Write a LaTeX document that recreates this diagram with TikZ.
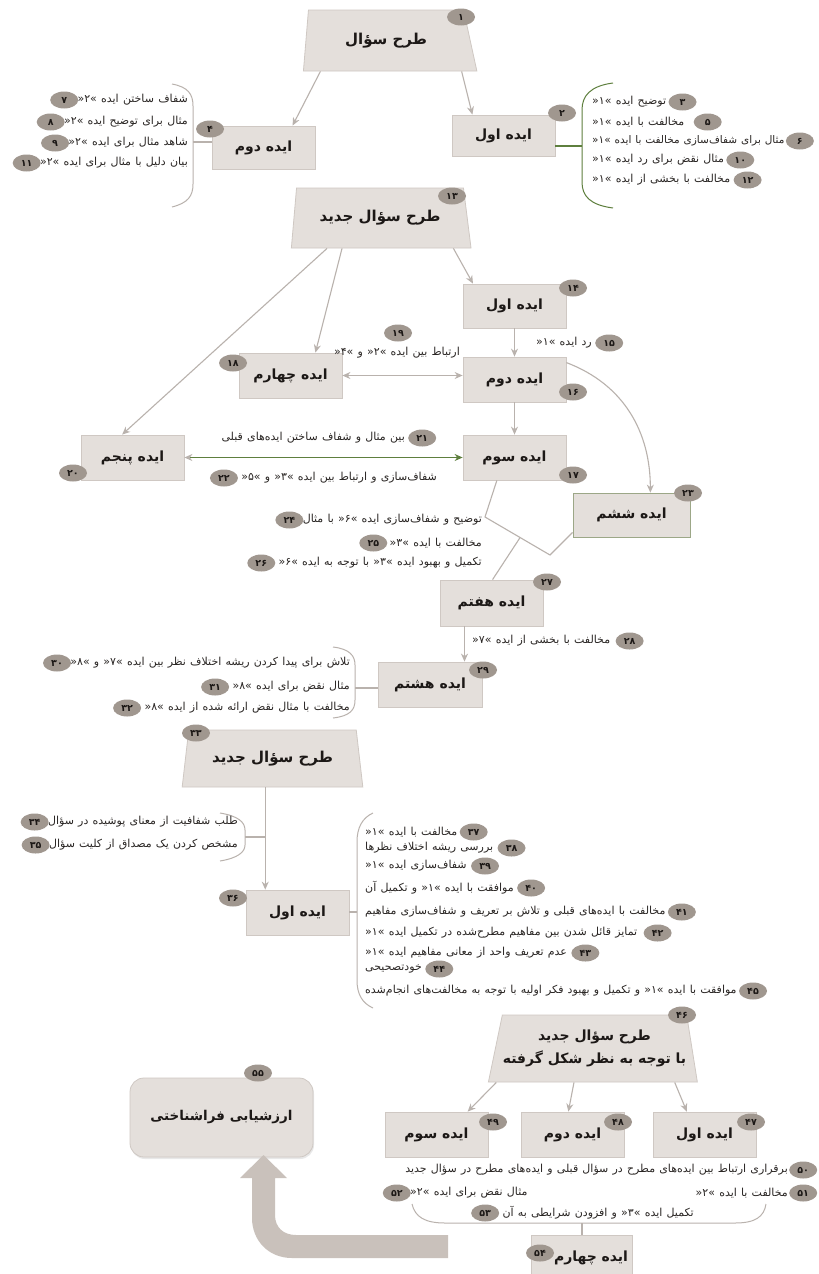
\documentclass[tikz,border=0pt]{standalone}
\usepackage{fontspec}
\usetikzlibrary{shapes.geometric,arrows.meta,calc,shadows}
\TeXXeTstate=1
\newfontfamily\fa[Script=Arabic]{DejaVu Sans}
\newcommand{\rl}[1]{\beginR#1\endR}
\newcommand{\itemfont}{\fa\fontsize{11}{13}\selectfont\spaceskip 4.2pt plus 1pt minus 0.5pt\relax}
\newcommand{\itemfontsm}{\fa\fontsize{10.5}{13}\selectfont\spaceskip 3.9pt plus 1pt minus 0.5pt\relax}
\definecolor{boxfill}{HTML}{E4DFDB}
\definecolor{boxline}{HTML}{CFC8C3}
\definecolor{badgefill}{HTML}{A0978F}
\definecolor{conncol}{HTML}{B9B2AD}
\definecolor{grn}{HTML}{5E7F3E}
\definecolor{txt}{HTML}{2A2624}
\definecolor{boldtxt}{HTML}{1C1816}
\definecolor{arrowfill}{HTML}{C9C1BB}
\tikzset{
 idea/.style={draw=boxline, fill=boxfill, line width=0.8pt, minimum width=103pt, minimum height=45pt, inner sep=0pt, font=\fa\bfseries\fontsize{14}{16}\selectfont, text=boldtxt},
 qbox/.style={trapezium, trapezium stretches=true, draw=boxline, fill=boxfill, line width=0.8pt, inner sep=0pt, font=\fa\bfseries\fontsize{15}{22}\selectfont, text=boldtxt, align=center},
 badge/.style={ellipse, fill=badgefill, minimum width=28pt, minimum height=17pt, inner sep=0pt, font=\fa\bfseries\fontsize{9.5}{9.5}\selectfont, text=boldtxt},
 item/.style={inner sep=0pt, font=\itemfont, text=txt},
 conn/.style={draw=conncol, line width=1.1pt},
 arr/.style={conn, -{Stealth[length=8pt,width=7pt]}},
 darr/.style={conn, {Stealth[length=8pt,width=7pt]}-{Stealth[length=8pt,width=7pt]}},
 brk/.style={draw=conncol, line width=1pt},
}
\begin{document}
\begin{tikzpicture}[x=1pt,y=-1pt]
\useasboundingbox (0,0) rectangle (819,1274);
\fill[white] (0,0) rectangle (819,1274);

% ---------- top section ----------
\node[qbox, trapezium left angle=80, trapezium right angle=65, minimum width=174pt, minimum height=61pt] (t1) at (386,40.5) {\rl{طرح سؤال}};
\node[idea, minimum height=43pt] (b4) at (263.5,147.5) {\rl{ایده دوم}};
\node[idea, minimum height=41pt] (b2) at (503.5,135.5) {\rl{ایده اول}};
\draw[arr] ($(t1.bottom left corner)!0.1!(t1.bottom right corner)$) -- ($(b4.north west)!0.78!(b4.north east)$);
\draw[arr] ($(t1.bottom left corner)!0.91!(t1.bottom right corner)$) -- ($(b2.north west)!0.2!(b2.north east)$);
\node[badge] (n1) at (461,17) {۱};
\node[badge] (n4) at (210,129) {۴};
\node[badge] (n2) at (562,113) {۲};

% left list of idea 2 (node 4)
\draw[brk] (172,84) .. controls (188,87) and (193,94) .. (193,106) -- (193,184) .. controls (193,196) and (188,203) .. (172,207);
\coordinate (k4) at (193,142);
\draw[conn] (k4) -- (k4 -| b4.west);
\node[item, anchor=east] (l7) at (188,100) {\rl{شفاف ساختن ایده »۲«}};
\node[badge, anchor=east] (n7) at ([xshift=1pt]l7.west) {۷};
\node[item, anchor=east] (l8) at (188,122) {\rl{مثال برای توضیح ایده »۲«}};
\node[badge, anchor=east] (n8) at ([xshift=1pt]l8.west) {۸};
\node[item, anchor=east] (l9) at (188,143) {\rl{شاهد مثال برای ایده »۲«}};
\node[badge, anchor=east] (n9) at ([xshift=1pt]l9.west) {۹};
\node[item, anchor=east] (l11) at (188,163) {\rl{بیان دلیل با مثال برای ایده »۲«}};
\node[badge, anchor=east] (n11) at ([xshift=1pt]l11.west) {۱۱};

% right list of idea 1 (node 2)
\draw[brk, draw=grn] (613,83) .. controls (590,86) and (582,96) .. (582,110) -- (582,182) .. controls (582,196) and (590,205) .. (613,208);
\coordinate (k2) at (582,146);
\draw[draw=grn, line width=1.1pt] (k2 -| b2.east) -- (k2);
\node[item, anchor=west] (l3) at (592,102) {\rl{توضیح ایده »۱«}};
\node[badge, anchor=west] (n3) at ([xshift=2pt]l3.east) {۳};
\node[item, anchor=west] (l5) at (592,122) {\rl{مخالفت با ایده »۱«}};
\node[badge, anchor=west] (n5) at ([xshift=9pt]l5.east) {۵};
\node[item, anchor=west, font=\itemfontsm] (l6) at (592,141) {\rl{مثال برای شفاف‌سازی مخالفت با ایده »۱«}};
\node[badge, anchor=west] (n6) at ([xshift=1pt]l6.east) {۶};
\node[item, anchor=west] (l10) at (592,160) {\rl{مثال نقض برای رد ایده »۱«}};
\node[badge, anchor=west] (n10) at ([xshift=2pt]l10.east) {۱۰};
\node[item, anchor=west] (l12) at (592,180) {\rl{مخالفت با بخشی از ایده »۱«}};
\node[badge, anchor=west] (n12) at ([xshift=3pt]l12.east) {۱۲};

% ---------- middle section ----------
\node[qbox, trapezium left angle=76, trapezium right angle=70, minimum width=180pt, minimum height=60pt] (t13) at (380,218) {\rl{طرح سؤال جدید}};
\node[idea, minimum height=44pt] (b14) at (514.5,306) {\rl{ایده اول}};
\node[idea] (b16) at (514.5,379.5) {\rl{ایده دوم}};
\node[idea] (b17) at (514.5,457.5) {\rl{ایده سوم}};
\node[idea] (b18) at (290.5,375.5) {\rl{ایده چهارم}};
\node[idea] (b20) at (132.5,457.5) {\rl{ایده پنجم}};
\node[idea, draw=grn!45!boxline, minimum width=117pt, minimum height=44pt] (b23) at (631.5,515) {\rl{ایده ششم}};
\node[idea, minimum height=46pt] (b27) at (491.5,603) {\rl{ایده هفتم}};
\node[idea, minimum width=104pt] (b29) at (430,684.5) {\rl{ایده هشتم}};

\draw[arr] ($(t13.bottom left corner)!0.9!(t13.bottom right corner)$) -- ($(b14.north west)!0.1!(b14.north east)$);
\draw[arr] ($(t13.bottom left corner)!0.283!(t13.bottom right corner)$) -- ($(b18.north west)!0.74!(b18.north east)$);
\draw[arr] ($(t13.bottom left corner)!0.2!(t13.bottom right corner)$) -- ($(b20.north west)!0.4!(b20.north east)$);
\draw[arr] (b14.south) -- (b16.north);
\draw[arr] (b16.south) -- (b17.north);
\draw[darr] (b18.east) -- (b18.east -| b16.west);
\draw[draw=grn, line width=1.1pt, {Stealth[length=8pt,width=7pt,color=conncol]}-{Stealth[length=8pt,width=7pt]}] (b20.east) -- (b20.east -| b17.west);
\draw[arr] ($(b16.north east)+(0,6)$) .. controls +(58,22) and +(0,-60) .. ($(b23.north west)!0.66!(b23.north east)$);

\coordinate (v1) at (485,517);
\coordinate (v2) at (550,555);
\draw[conn] ($(b17.south west)!0.33!(b17.south east)$) -- (v1) -- (v2) -- ($(b23.south west)+(0,-5)$);
\draw[conn] ($(v1)!0.54!(v2)$) -- ($(b27.north west)!0.51!(b27.north east)$);
\coordinate (c27) at ($(b27.south west)!0.24!(b27.south east)$);
\draw[arr] (c27) -- (c27 |- b29.north);

\node[badge] (n13) at (452,196) {۱۳};
\node[badge] (n14) at (573,288) {۱۴};
\node[badge] (n16) at (573,392) {۱۶};
\node[badge] (n17) at (573,475) {۱۷};
\node[badge] (n18) at (233,363) {۱۸};
\node[badge] (n20) at (73,473) {۲۰};
\node[badge] (n23) at (688,493) {۲۳};
\node[badge] (n27) at (547,582) {۲۷};
\node[badge] (n29) at (483,670) {۲۹};

\node[badge] (n19) at (398,333) {۱۹};
\node[item, anchor=east] (l19) at (460,353) {\rl{ارتباط بین ایده »۲« و »۴«}};
\node[item, anchor=east] (l15) at (592,343) {\rl{رد ایده »۱«}};
\node[badge, anchor=west] (n15) at ([xshift=3pt]l15.east) {۱۵};
\node[item, anchor=east] (l21) at (405,438) {\rl{بین مثال و شفاف ساختن ایده‌های قبلی}};
\node[badge, anchor=west] (n21) at ([xshift=3pt]l21.east) {۲۱};
\node[item, anchor=east] (l22) at (437,478) {\rl{شفاف‌سازی و ارتباط بین ایده »۳« و »۵«}};
\node[badge, anchor=east] (n22) at ([xshift=-3pt]l22.west) {۲۲};
\node[item, anchor=east] (l24) at (482,520) {\rl{توضیح و شفاف‌سازی ایده »۶« با مثال}};
\node[badge, anchor=east] (n24) at ([xshift=1pt]l24.west) {۲۴};
\node[item, anchor=east] (l25) at (482,543) {\rl{مخالفت با ایده »۳«}};
\node[badge, anchor=east] (n25) at ([xshift=-2pt]l25.west) {۲۵};
\node[item, anchor=east] (l26) at (482,563) {\rl{تکمیل و بهبود ایده »۳« با توجه به ایده »۶«}};
\node[badge, anchor=east] (n26) at ([xshift=-3pt]l26.west) {۲۶};
\node[item, anchor=west] (l28) at (472,641) {\rl{مخالفت با بخشی از ایده »۷«}};
\node[badge, anchor=west] (n28) at ([xshift=5pt]l28.east) {۲۸};

% list of idea 8
\draw[brk] (333,647) .. controls (350,649) and (355,656) .. (355,665) -- (355,700) .. controls (355,710) and (350,716) .. (333,718);
\coordinate (k29) at (355,688);
\draw[conn] (k29) -- (k29 -| b29.west);
\node[item, anchor=east] (l30) at (350,663) {\rl{تلاش برای پیدا کردن ریشه اختلاف نظر بین ایده »۷« و »۸«}};
\node[badge, anchor=east] (n30) at ([xshift=1pt]l30.west) {۳۰};
\node[item, anchor=east] (l31) at (350,687) {\rl{مثال نقض برای ایده »۸«}};
\node[badge, anchor=east] (n31) at ([xshift=-3pt]l31.west) {۳۱};
\node[item, anchor=east] (l32) at (350,708) {\rl{مخالفت با مثال نقض ارائه شده از ایده »۸«}};
\node[badge, anchor=east] (n32) at ([xshift=-3pt]l32.west) {۳۲};

% ---------- lower section ----------
\node[qbox, trapezium left angle=72.5, trapezium right angle=72.5, minimum width=181pt, minimum height=57pt] (t33) at (272.5,758.5) {\rl{طرح سؤال جدید}};
\node[idea] (b36) at (297.5,912.5) {\rl{ایده اول}};
\coordinate (c33) at ($(t33.bottom left corner)!0.46!(t33.bottom right corner)$);
\draw[arr] (c33) -- (c33 |- b36.north);
\node[badge] (n33) at (196,733) {۳۳};
\node[badge] (n36) at (233,898) {۳۶};

\draw[brk] (220,813) .. controls (238,816) and (245,822) .. (245,830) -- (245,845) .. controls (245,852) and (238,858) .. (220,861);
\coordinate (k34) at (245,837);
\draw[conn] (k34) -- (k34 -| c33);
\node[item, anchor=east] (l34) at (238,822) {\rl{طلب شفافیت از معنای پوشیده در سؤال}};
\node[badge, anchor=east] (n34) at ([xshift=1pt]l34.west) {۳۴};
\node[item, anchor=east] (l35) at (238,845) {\rl{مشخص کردن یک مصداق از کلیت سؤال}};
\node[badge, anchor=east] (n35) at ([xshift=1pt]l35.west) {۳۵};

\draw[brk] (373,813) .. controls (362,818) and (357,828) .. (357,842) -- (357,980) .. controls (357,994) and (362,1003) .. (373,1008);
\coordinate (k36) at (357,912);
\draw[conn] (k36 -| b36.east) -- (k36);
\node[item, anchor=west] (l37) at (365,832) {\rl{مخالفت با ایده »۱«}};
\node[badge, anchor=west] (n37) at ([xshift=2pt]l37.east) {۳۷};
\node[item, anchor=west] (l38) at (365,848) {\rl{بررسی ریشه اختلاف نظرها}};
\node[badge, anchor=west] (n38) at ([xshift=4pt]l38.east) {۳۸};
\node[item, anchor=west] (l39) at (365,866) {\rl{شفاف‌سازی ایده »۱«}};
\node[badge, anchor=west] (n39) at ([xshift=4pt]l39.east) {۳۹};
\node[item, anchor=west] (l40) at (365,888) {\rl{موافقت با ایده »۱« و تکمیل آن}};
\node[badge, anchor=west] (n40) at ([xshift=3pt]l40.east) {۴۰};
\node[item, anchor=west] (l41) at (365,912) {\rl{مخالفت با ایده‌های قبلی و تلاش بر تعریف و شفاف‌سازی مفاهیم}};
\node[badge, anchor=west] (n41) at ([xshift=2pt]l41.east) {۴۱};
\node[item, anchor=west] (l42) at (365,933) {\rl{تمایز قائل شدن بین مفاهیم مطرح‌شده در تکمیل ایده »۱«}};
\node[badge, anchor=west] (n42) at ([xshift=6pt]l42.east) {۴۲};
\node[item, anchor=west] (l43) at (365,953) {\rl{عدم تعریف واحد از معانی مفاهیم ایده »۱«}};
\node[badge, anchor=west] (n43) at ([xshift=4pt]l43.east) {۴۳};
\node[item, anchor=west] (l44) at (365,969) {\rl{خودتصحیحی}};
\node[badge, anchor=west] (n44) at ([xshift=3pt]l44.east) {۴۴};
\node[item, anchor=west] (l45) at (365,991) {\rl{موافقت با ایده »۱« و تکمیل و بهبود فکر اولیه با توجه به مخالفت‌های انجام‌شده}};
\node[badge, anchor=west] (n45) at ([xshift=2pt]l45.east) {۴۵};

% ---------- bottom section ----------
\node[qbox, trapezium left angle=69.5, trapezium right angle=74, minimum width=209pt, minimum height=67pt, font=\fa\bfseries\fontsize{14}{23}\selectfont] (t46) at (594.5,1048.5) {\rl{طرح سؤال جدید}\\\rl{با توجه به نظر شکل گرفته}};
\node[idea] (b47) at (704.5,1134.5) {\rl{ایده اول}};
\node[idea] (b48) at (572.5,1134.5) {\rl{ایده دوم}};
\node[idea] (b49) at (436.5,1134.5) {\rl{ایده سوم}};
\draw[arr] ($(t46.bottom left corner)!0.89!(t46.bottom right corner)$) -- ($(b47.north west)!0.33!(b47.north east)$);
\draw[arr] ($(t46.bottom left corner)!0.41!(t46.bottom right corner)$) -- ($(b48.north west)!0.46!(b48.north east)$);
\draw[arr] ($(t46.bottom left corner)!0.04!(t46.bottom right corner)$) -- ($(b49.north west)!0.8!(b49.north east)$);
\node[badge] (n46) at (682,1015) {۴۶};
\node[badge] (n47) at (751,1122) {۴۷};
\node[badge] (n48) at (618,1122) {۴۸};
\node[badge] (n49) at (493,1122) {۴۹};

\node[item, anchor=east] (l50) at (788,1170) {\rl{برقراری ارتباط بین ایده‌های مطرح در سؤال قبلی و ایده‌های مطرح در سؤال جدید}};
\node[badge, anchor=west] (n50) at ([xshift=1pt]l50.east) {۵۰};
\node[item, anchor=east] (l51) at (788,1193) {\rl{مخالفت با ایده »۲«}};
\node[badge, anchor=west] (n51) at ([xshift=1pt]l51.east) {۵۱};
\node[item, anchor=west] (l52) at (410,1193) {\rl{مثال نقض برای ایده »۲«}};
\node[badge, anchor=east] (n52) at ([xshift=1pt]l52.west) {۵۲};
\node[item, anchor=east] (l53) at (694,1213) {\rl{تکمیل ایده »۳« و افزودن شرایطی به آن}};
\node[badge, anchor=east] (n53) at ([xshift=-3pt]l53.west) {۵۳};

\node[idea, minimum width=101pt, minimum height=46pt, text width=93pt, align=right] (b54) at (581.5,1258) {\rl{ایده چهارم}};
\draw[brk] (412,1204) .. controls (415,1217) and (425,1223) .. (445,1223) -- (735,1223) .. controls (755,1223) and (764,1217) .. (766,1204);
\coordinate (k54) at (582,1223);
\draw[conn] (k54) -- (k54 |- b54.north);
\node[badge] (n54) at (540,1253) {۵۴};

\node[idea, rounded corners=14pt, minimum width=183pt, minimum height=79pt, drop shadow={opacity=0.18, shadow xshift=1pt, shadow yshift=-2pt}, font=\fa\bfseries\fontsize{13.5}{16}\selectfont] (b55) at (221.5,1117.5) {\rl{ارزشیابی فراشناختی}};
\node[badge] (n55) at (258,1073) {۵۵};

% big return arrow
\fill[arrowfill] (448,1235) -- (296,1235) .. controls (283,1235) and (275,1227) .. (275,1215) -- (275,1178) -- (287,1178) -- (263.5,1155) -- (240,1178) -- (252,1178) -- (252,1218) .. controls (252,1240) and (268,1258) .. (292,1258) -- (448,1258) -- cycle;
\end{tikzpicture}
\end{document}
